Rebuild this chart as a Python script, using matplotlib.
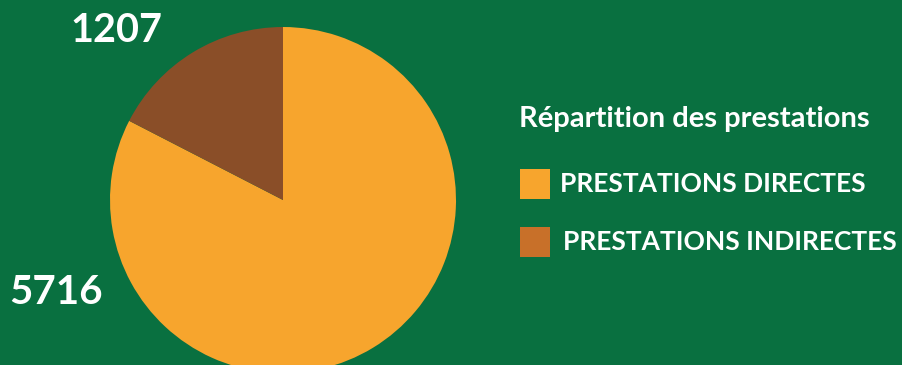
import matplotlib.pyplot as plt
from matplotlib.patches import Rectangle

# data
categories = ['PRESTATIONS DIRECTES', 'PRESTATIONS INDIRECTES']
values = [5716, 1207]
pie_colors = ['#F7A52D', '#8A4E28']
legend_colors = ['#F7A52D', '#C87029']
title = 'Répartition des prestations'

bg = '#097040'
W, H = 903, 365

plt.rcParams['font.family'] = ['Lato', 'DejaVu Sans']

fig = plt.figure(figsize=(W / 100, H / 100), dpi=100, facecolor=bg)

# pie axes: center (283, 200), radius 173 px
cx, cy, r = 283, 200, 173
ax = fig.add_axes([(cx - r) / W, (H - cy - r) / H, 2 * r / W, 2 * r / H])
ax.set_facecolor(bg)
ax.pie(values, colors=pie_colors, startangle=90, counterclock=False,
       radius=1, wedgeprops=dict(linewidth=0))
ax.set_xlim(-1, 1)
ax.set_ylim(-1, 1)
ax.set_aspect('equal')
ax.axis('off')

# value labels
fig.text(116 / W, 1 - 30 / H, str(values[1]), color='white', fontsize=28.5,
         fontweight='bold', ha='center', va='center')
fig.text(56 / W, 1 - 292 / H, str(values[0]), color='white', fontsize=29,
         fontweight='bold', ha='center', va='center')

# legend
fig.text(519 / W, 1 - 119 / H, title, color='white', fontsize=21,
         fontweight='bold', ha='left', va='center')
rows = [184, 242]
text_x = [560, 563]
for lab, col, y, tx in zip(categories, legend_colors, rows, text_x):
    fig.patches.append(Rectangle((520 / W, 1 - (y + 15) / H), 30 / W, 30 / H,
                                 transform=fig.transFigure, facecolor=col,
                                 edgecolor='none'))
    fig.text(tx / W, 1 - y / H, lab, color='white', fontsize=19,
             fontweight='bold', ha='left', va='center')

fig.savefig('out.png', dpi=100, facecolor=bg)
